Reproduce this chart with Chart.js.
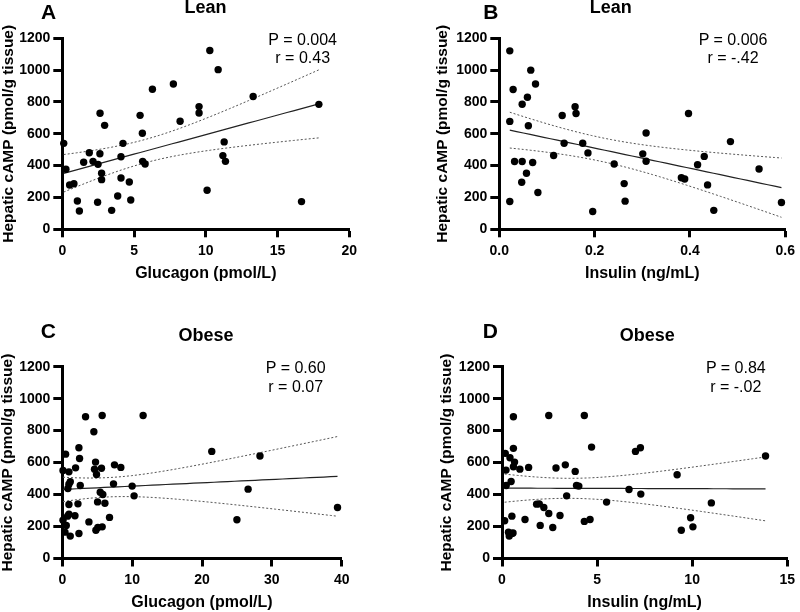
<!DOCTYPE html>
<html>
<head>
<meta charset="utf-8">
<script src="https://cdn.jsdelivr.net/npm/chart.js@4.4.0/dist/chart.umd.min.js"></script>
<style>
    html, body { margin: 0; padding: 0; background: #fff; }
    #page { position: relative; width: 800px; height: 612px; overflow: hidden; font-family: 'Liberation Sans', Arial, sans-serif; }
    #page canvas { position: absolute; }
    .lbl { position: absolute; line-height: 1; white-space: nowrap; color: #000; }
</style>
</head>
<body>
<div id="page"></div>
<script>
// values
const campTicks = [0, 200, 400, 600, 800, 1000, 1200];

const leanGlucagonTicks = [0, 5, 10, 15, 20];
const leanGlucagonX = [0.1, 0.25, 0.51, 0.81, 1.05, 1.19, 1.49, 1.88, 2.14, 2.46, 2.49, 2.63, 2.62, 2.74, 2.74, 2.95, 3.44, 3.86, 4.09, 4.09, 4.23, 4.67, 4.77, 5.42, 5.58, 5.6, 5.77, 6.28, 7.74, 8.21, 9.53, 9.53, 10.09, 10.28, 10.86, 11.19, 11.28, 11.37, 13.3, 16.67, 17.88];
const leanGlucagonCAMP = [540, 377, 278, 286, 178, 115, 421, 481, 427, 170, 408, 729, 475, 352, 312, 653, 119, 209, 456, 322, 540, 297, 184, 716, 603, 427, 410, 880, 913, 679, 771, 731, 245, 1123, 1003, 463, 549, 427, 834, 174, 785];

const leanInsulinTicks = [0, 0.2, 0.4, 0.6];
const leanInsulinX = [0.022, 0.022, 0.022, 0.029, 0.032, 0.048, 0.048, 0.047, 0.057, 0.059, 0.061, 0.066, 0.070, 0.076, 0.081, 0.114, 0.132, 0.136, 0.159, 0.161, 0.175, 0.186, 0.196, 0.241, 0.262, 0.264, 0.301, 0.308, 0.308, 0.382, 0.389, 0.397, 0.416, 0.430, 0.437, 0.450, 0.485, 0.545, 0.592];
const leanInsulinCAMP = [1121, 678, 175, 878, 426, 786, 426, 296, 352, 830, 651, 1000, 420, 913, 231, 464, 715, 541, 770, 728, 541, 480, 112, 410, 287, 177, 474, 605, 428, 324, 316, 728, 406, 458, 279, 119, 551, 379, 168];

const obeseGlucagonTicks = [0, 10, 20, 30, 40];
const obeseGlucagonX = [3.33, 5.71, 11.57, 4.52, 2.38, 0.47, 2.47, 4.76, 7.47, 8.38, 1.9, 5.61, 4.61, 0.1, 0.95, 4.9, 1.14, 0.95, 2.57, 0.8, 7.33, 10.0, 5.43, 5.8, 10.28, 5.05, 6.1, 2.24, 0.95, 0.95, 0.76, 1.81, 6.76, 0.1, 3.81, 0.57, 5.71, 5.09, 4.81, 0.38, 2.38, 1.14, 21.4, 26.6, 25.0, 28.3, 39.4];
const obeseGlucagonCAMP = [887, 895, 895, 793, 693, 653, 626, 603, 586, 570, 567, 565, 559, 551, 542, 526, 480, 465, 457, 438, 467, 453, 415, 400, 392, 354, 346, 342, 338, 277, 265, 267, 257, 240, 229, 206, 198, 194, 177, 165, 156, 140, 670, 434, 242, 641, 319];

const obeseInsulinTicks = [0, 5, 10, 15];
const obeseInsulinX = [0.6, 2.46, 4.33, 0.6, 4.71, 0.17, 0.42, 0.66, 0.6, 0.94, 1.4, 2.84, 3.33, 3.85, 0.21, 0.48, 0.22, 3.92, 4.04, 3.4, 1.82, 1.96, 2.2, 2.46, 3.05, 0.52, 0.14, 1.21, 4.33, 4.63, 2.01, 2.67, 0.34, 0.52, 0.58, 0.38, 5.5, 6.68, 7.02, 7.28, 7.3, 9.21, 9.43, 9.92, 10.04, 11.01, 13.86];
const obeseInsulinCAMP = [887, 895, 895, 689, 697, 658, 630, 603, 574, 559, 570, 566, 586, 545, 553, 482, 457, 457, 453, 392, 340, 342, 319, 282, 269, 265, 236, 244, 232, 244, 207, 194, 165, 157, 160, 140, 353, 432, 670, 693, 403, 524, 177, 255, 198, 348, 641];

const panelLetters = ['A', 'B', 'C', 'D'];
const panelTitles = ['Lean', 'Lean', 'Obese', 'Obese'];
const pLabels = ['P = 0.004', 'P = 0.006', 'P = 0.60', 'P = 0.84'];
const rLabels = ['r = 0.43', 'r = -.42', 'r = 0.07', 'r = -.02'];

const FONT = "'Liberation Sans', Arial, sans-serif";

// least squares line with 95% confidence band
function regress(xs, ys) {
    const n = xs.length;
    const mx = xs.reduce((a, b) => a + b, 0) / n;
    const my = ys.reduce((a, b) => a + b, 0) / n;
    let sxx = 0, sxy = 0;
    for (let i = 0; i < n; i++) {
        sxx += (xs[i] - mx) ** 2;
        sxy += (xs[i] - mx) * (ys[i] - my);
    }
    const b = sxy / sxx, a = my - b * mx;
    let sse = 0;
    for (let i = 0; i < n; i++) {
        const e = ys[i] - a - b * xs[i];
        sse += e * e;
    }
    const s = Math.sqrt(sse / (n - 2));
    const lo = Math.min(...xs), hi = Math.max(...xs);
    const line = [], upper = [], lower = [];
    for (let k = 0; k <= 40; k++) {
        const x = lo + (hi - lo) * k / 40;
        const yh = a + b * x;
        const h = 2.02 * s * Math.sqrt(1 / n + (x - mx) ** 2 / sxx);
        line.push({x: x, y: yh});
        upper.push({x: x, y: yh + h});
        lower.push({x: x, y: yh - h});
    }
    return {line, upper, lower};
}

const panels = [
    {xs: leanGlucagonX, ys: leanGlucagonCAMP, xTicks: leanGlucagonTicks, xTitle: 'Glucagon (pmol/L)', fmt: v => String(v),
     box: {left: -1, top: 0, w: 370, h: 283}, area: {left: 62.3, top: 38.3, right: 349.3, bottom: 229.3},
     letter: [41, 18.3], title: [205.5, 13.3], stat: [302.7, 46, 63.3]},
    {xs: leanInsulinX, ys: leanInsulinCAMP, xTicks: leanInsulinTicks, xTitle: 'Insulin (ng/mL)', fmt: v => v.toFixed(1),
     box: {left: 433, top: 0, w: 367, h: 283}, area: {left: 499.3, top: 38.3, right: 786.7, bottom: 229.3},
     letter: [483.3, 18.3], title: [610.8, 13.3], stat: [733, 46, 63.3]},
    {xs: obeseGlucagonX, ys: obeseGlucagonCAMP, xTicks: obeseGlucagonTicks, xTitle: 'Glucagon (pmol/L)', fmt: v => String(v),
     box: {left: -2, top: 300, w: 364, h: 312}, area: {left: 62.3, top: 366.7, right: 341.7, bottom: 558.5},
     letter: [40.7, 337.7], title: [206, 341.3], stat: [295.7, 374, 392.3]},
    {xs: obeseInsulinX, ys: obeseInsulinCAMP, xTicks: obeseInsulinTicks, xTitle: 'Insulin (ng/mL)', fmt: v => String(v),
     box: {left: 437, top: 300, w: 363, h: 312}, area: {left: 502, top: 366.7, right: 790, bottom: 558.5},
     letter: [482.7, 337.7], title: [647.2, 341.3], stat: [735.8, 374, 392.3]}
];

const page = document.getElementById('page');

// text placed by baseline
function addText(text, x, baseline, size, weight, centered) {
    const d = document.createElement('div');
    d.className = 'lbl';
    d.textContent = text;
    d.style.fontSize = size + 'px';
    d.style.fontWeight = weight;
    d.style.top = (baseline - 0.8465 * size) + 'px';
    d.style.left = x + 'px';
    if (centered) d.style.transform = 'translateX(-50%)';
    page.appendChild(d);
}

panels.forEach(function(p, i) {
    const canvas = document.createElement('canvas');
    canvas.width = p.box.w;
    canvas.height = p.box.h;
    canvas.style.left = p.box.left + 'px';
    canvas.style.top = p.box.top + 'px';
    page.appendChild(canvas);

    const fit = regress(p.xs, p.ys);
    const pts = p.xs.map((x, k) => ({x: x, y: p.ys[k]}));
    const yWidth = p.area.left - p.box.left;
    const xHeight = p.box.top + p.box.h - p.area.bottom;

    const axisGrid = (len) => ({
        display: true, drawOnChartArea: false, drawTicks: true,
        tickLength: len, tickWidth: 3, tickColor: '#000', color: '#000'
    });

    new Chart(canvas, {
        type: 'scatter',
        data: {
            datasets: [
                {data: pts, pointRadius: 3.7, pointBackgroundColor: '#000', pointBorderWidth: 0, clip: false},
                {data: fit.line, showLine: true, pointRadius: 0, borderColor: '#222', borderWidth: 1.2},
                {data: fit.upper, showLine: true, pointRadius: 0, borderColor: '#555', borderWidth: 1, borderDash: [2, 2]},
                {data: fit.lower, showLine: true, pointRadius: 0, borderColor: '#555', borderWidth: 1, borderDash: [2, 2]}
            ]
        },
        options: {
            responsive: false,
            devicePixelRatio: 1,
            animation: false,
            layout: {
                padding: {
                    left: 0,
                    top: p.area.top - p.box.top,
                    right: p.box.left + p.box.w - p.area.right,
                    bottom: 0
                }
            },
            plugins: {
                legend: { display: false },
                tooltip: { enabled: false }
            },
            scales: {
                x: {
                    type: 'linear',
                    min: p.xTicks[0],
                    max: p.xTicks[p.xTicks.length - 1],
                    afterBuildTicks: s => { s.ticks = p.xTicks.map(v => ({value: v})); },
                    afterFit: s => { s.height = xHeight; },
                    ticks: {
                        callback: p.fmt, color: '#000', padding: 5, maxRotation: 0, autoSkip: false,
                        font: {family: FONT, size: 14, weight: 'bold'}
                    },
                    grid: axisGrid(8),
                    border: { display: true, color: '#000', width: 3 },
                    title: {
                        display: true, text: p.xTitle, color: '#000', padding: {top: 0, bottom: 0},
                        font: {family: FONT, size: 16, weight: 'bold'}
                    }
                },
                y: {
                    type: 'linear',
                    min: campTicks[0],
                    max: campTicks[campTicks.length - 1],
                    afterBuildTicks: s => { s.ticks = campTicks.map(v => ({value: v})); },
                    afterFit: s => { s.width = yWidth; },
                    ticks: {
                        callback: v => String(v), color: '#000', padding: 3,
                        font: {family: FONT, size: 14, weight: 'bold'}
                    },
                    grid: axisGrid(9),
                    border: { display: true, color: '#000', width: 3 },
                    title: {
                        display: true, text: 'Hepatic cAMP (pmol/g tissue)', color: '#000', padding: {top: 0, bottom: 0},
                        font: {family: FONT, size: 15.5, weight: 'bold'}
                    }
                }
            }
        }
    });

    addText(panelLetters[i], p.letter[0], p.letter[1], 21, 'bold', false);
    addText(panelTitles[i], p.title[0], p.title[1], 18, 'bold', true);
    addText(pLabels[i], p.stat[0], p.stat[1], 16, 'normal', true);
    addText(rLabels[i], p.stat[0], p.stat[2], 16, 'normal', true);
});
</script>
</body>
</html>
